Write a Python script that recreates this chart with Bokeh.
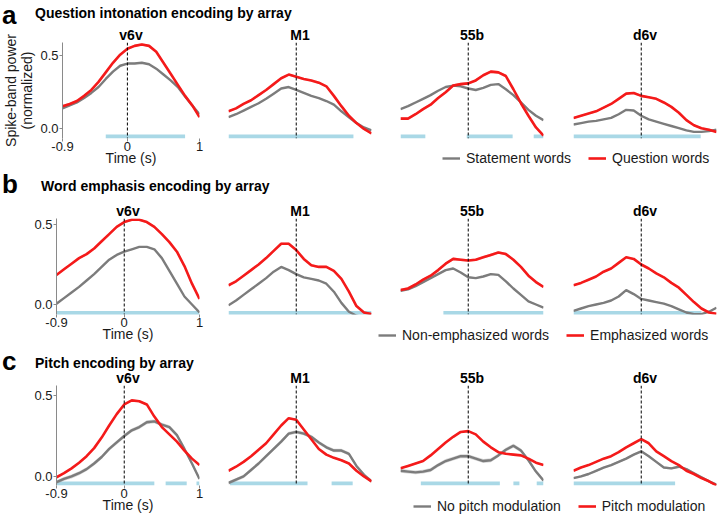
from bokeh.plotting import figure
from bokeh.models import Range1d, Span, FixedTicker, Legend, LegendItem, Div
from bokeh.layouts import row, column
from bokeh.embed import file_html
from bokeh.resources import INLINE

# ---------------- data ----------------
TIME = [-0.9, -0.8, -0.7, -0.6, -0.5, -0.4, -0.3, -0.2, -0.1, 0.0,
        0.1, 0.2, 0.3, 0.4, 0.5, 0.6, 0.7, 0.8, 0.9, 1.0]
ARRAYS = ["v6v", "M1", "55b", "d6v"]
LETTERS = ["a", "b", "c"]
ROW_TITLES = ["Question intonation encoding by array",
              "Word emphasis encoding by array",
              "Pitch encoding by array"]
LEGEND_GREY = ["Statement words", "Non-emphasized words", "No pitch modulation"]
LEGEND_RED = ["Question words", "Emphasized words", "Pitch modulation"]
X_TICKS = [-0.9, 0, 1]
X_TICK_LABELS = ["-0.9", "0", "1"]
Y_TICKS = [0, 0.5]
Y_TICK_LABELS = ["0.0", "0.5"]
Y_LABEL = "Spike-band power\n(normalized)"
X_LABEL = "Time (s)"

# row a: question intonation
A_V6V_GREY = [0.14, 0.16, 0.18, 0.21, 0.245, 0.285, 0.34, 0.39, 0.43, 0.445, 0.445, 0.45, 0.44, 0.41, 0.37, 0.33, 0.285, 0.22, 0.16, 0.10]
A_V6V_RED = [0.155, 0.17, 0.19, 0.225, 0.265, 0.32, 0.385, 0.45, 0.505, 0.545, 0.565, 0.575, 0.565, 0.525, 0.45, 0.375, 0.30, 0.225, 0.16, 0.08]
A_M1_GREY = [0.08, 0.10, 0.125, 0.15, 0.175, 0.205, 0.24, 0.275, 0.285, 0.265, 0.245, 0.225, 0.21, 0.19, 0.165, 0.12, 0.08, 0.04, 0.01, -0.01]
A_M1_RED = [0.12, 0.14, 0.17, 0.195, 0.23, 0.265, 0.305, 0.345, 0.37, 0.355, 0.34, 0.33, 0.315, 0.29, 0.225, 0.155, 0.09, 0.04, 0.0, -0.03]
A_55B_GREY = [0.135, 0.155, 0.18, 0.205, 0.23, 0.26, 0.285, 0.295, 0.29, 0.275, 0.265, 0.28, 0.30, 0.305, 0.27, 0.23, 0.18, 0.13, 0.09, 0.06]
A_55B_RED = [0.07, 0.07, 0.10, 0.135, 0.165, 0.21, 0.25, 0.295, 0.305, 0.31, 0.33, 0.365, 0.39, 0.385, 0.36, 0.27, 0.175, 0.09, 0.01, -0.045]
A_D6V_GREY = [0.03, 0.04, 0.05, 0.055, 0.065, 0.075, 0.10, 0.13, 0.125, 0.09, 0.065, 0.05, 0.035, 0.02, 0.005, -0.01, -0.02, -0.02, -0.015, -0.005]
A_D6V_RED = [0.075, 0.09, 0.105, 0.12, 0.145, 0.17, 0.205, 0.24, 0.245, 0.225, 0.215, 0.205, 0.18, 0.15, 0.11, 0.06, 0.025, 0.005, -0.005, -0.02]

# row b: word emphasis
B_V6V_GREY = [0.005, 0.04, 0.075, 0.11, 0.15, 0.19, 0.235, 0.28, 0.31, 0.33, 0.345, 0.36, 0.36, 0.345, 0.29, 0.21, 0.13, 0.05, 0.0, -0.05]
B_V6V_RED = [0.185, 0.22, 0.255, 0.29, 0.315, 0.35, 0.395, 0.44, 0.485, 0.515, 0.53, 0.53, 0.515, 0.485, 0.44, 0.39, 0.33, 0.24, 0.13, 0.035]
B_M1_GREY = [-0.005, 0.025, 0.06, 0.095, 0.13, 0.165, 0.205, 0.235, 0.215, 0.19, 0.17, 0.16, 0.15, 0.13, 0.08, 0.01, -0.045, -0.07, -0.08, -0.08]
B_M1_RED = [0.12, 0.145, 0.18, 0.215, 0.25, 0.29, 0.335, 0.38, 0.38, 0.34, 0.285, 0.245, 0.235, 0.235, 0.21, 0.16, 0.08, -0.01, -0.05, -0.06]
B_55B_GREY = [0.085, 0.095, 0.115, 0.14, 0.165, 0.19, 0.215, 0.225, 0.20, 0.17, 0.165, 0.175, 0.19, 0.185, 0.145, 0.10, 0.06, 0.02, 0.0, -0.02]
B_55B_RED = [0.09, 0.10, 0.125, 0.155, 0.18, 0.215, 0.255, 0.285, 0.28, 0.275, 0.28, 0.295, 0.31, 0.325, 0.315, 0.28, 0.235, 0.18, 0.14, 0.11]
B_D6V_GREY = [-0.04, -0.025, -0.01, 0.0, 0.01, 0.025, 0.05, 0.09, 0.065, 0.035, 0.025, 0.015, 0.005, -0.01, -0.03, -0.05, -0.06, -0.06, -0.045, -0.02]
B_D6V_RED = [0.12, 0.135, 0.155, 0.175, 0.205, 0.225, 0.26, 0.295, 0.285, 0.25, 0.225, 0.195, 0.17, 0.135, 0.105, 0.06, 0.015, -0.025, -0.05, -0.058]

# row c: pitch
C_V6V_GREY = [-0.035, -0.015, 0.0, 0.02, 0.045, 0.08, 0.12, 0.17, 0.21, 0.25, 0.285, 0.305, 0.335, 0.34, 0.32, 0.305, 0.255, 0.17, 0.08, -0.015]
C_V6V_RED = [-0.005, 0.02, 0.05, 0.085, 0.125, 0.175, 0.24, 0.315, 0.385, 0.445, 0.47, 0.465, 0.445, 0.37, 0.305, 0.26, 0.215, 0.16, 0.11, 0.07]
C_M1_GREY = [-0.04, -0.02, 0.0, 0.04, 0.08, 0.125, 0.17, 0.215, 0.265, 0.275, 0.265, 0.245, 0.21, 0.18, 0.16, 0.16, 0.14, 0.065, 0.01, -0.03]
C_M1_RED = [0.035, 0.06, 0.09, 0.125, 0.165, 0.205, 0.26, 0.315, 0.36, 0.35, 0.29, 0.23, 0.17, 0.135, 0.115, 0.10, 0.08, 0.035, 0.0, -0.03]
C_55B_GREY = [0.035, 0.03, 0.025, 0.03, 0.04, 0.07, 0.095, 0.11, 0.125, 0.125, 0.11, 0.095, 0.10, 0.13, 0.165, 0.19, 0.16, 0.10, 0.03, -0.025]
C_55B_RED = [0.05, 0.065, 0.08, 0.095, 0.13, 0.17, 0.21, 0.245, 0.275, 0.28, 0.26, 0.215, 0.18, 0.15, 0.14, 0.135, 0.13, 0.11, 0.085, 0.07]
C_D6V_GREY = [-0.01, 0.0, 0.015, 0.035, 0.055, 0.07, 0.09, 0.11, 0.135, 0.155, 0.125, 0.09, 0.055, 0.05, 0.06, 0.045, 0.02, -0.005, -0.03, -0.05]
C_D6V_RED = [0.035, 0.055, 0.07, 0.09, 0.11, 0.125, 0.15, 0.18, 0.205, 0.23, 0.205, 0.155, 0.125, 0.095, 0.07, 0.035, 0.015, -0.01, -0.03, -0.055]

# error-band half widths (per array)
SEM_GREY_A = [0.005, 0.004, 0.004, 0.004]
SEM_RED_A = [0.008, 0.007, 0.009, 0.007]
SEM_GREY_B = [0.004, 0.004, 0.005, 0.004]
SEM_RED_B = [0.007, 0.007, 0.008, 0.006]
SEM_GREY_C = [0.012, 0.011, 0.012, 0.007]
SEM_RED_C = [0.006, 0.006, 0.006, 0.005]

# significant time windows (start, end) per array
SIG_A = [[(-0.3, 0.8)], [(-0.9, 0.76)], [(-0.9, -0.57), (-0.02, 0.59), (0.87, 1.0)], [(-0.9, 0.79)]]
SIG_B = [[(-0.9, 1.0)], [(-0.9, 1.0)], [(-0.33, 1.0)], [(-0.9, 0.8)]]
SIG_C = [[(-0.9, 0.4), (0.55, 0.83), (0.96, 1.0)], [(-0.88, 0.15), (0.47, 0.75)],
         [(-0.63, 0.42), (0.6, 0.68), (0.91, 1.0)], [(-0.9, 0.45)]]

GREYS = [[A_V6V_GREY, A_M1_GREY, A_55B_GREY, A_D6V_GREY],
         [B_V6V_GREY, B_M1_GREY, B_55B_GREY, B_D6V_GREY],
         [C_V6V_GREY, C_M1_GREY, C_55B_GREY, C_D6V_GREY]]
REDS = [[A_V6V_RED, A_M1_RED, A_55B_RED, A_D6V_RED],
        [B_V6V_RED, B_M1_RED, B_55B_RED, B_D6V_RED],
        [C_V6V_RED, C_M1_RED, C_55B_RED, C_D6V_RED]]
SEM_G = [SEM_GREY_A, SEM_GREY_B, SEM_GREY_C]
SEM_R = [SEM_RED_A, SEM_RED_B, SEM_RED_C]
SIGS = [SIG_A, SIG_B, SIG_C]

# ---------------- style / layout ----------------
FONT = "Liberation Sans"
GREY = "#7c7c7c"
RED = "#f41a1a"
BLUE = "#a9d8e6"
AXIS_COL = "#8a8a8a"
TXT = "#1a1a1a"

Y_RANGES = [(-0.065, 0.588), (-0.0625, 0.5375), (-0.056, 0.562)]
SIG_Y = [-0.051, -0.053, -0.043]
FRAME_H = [96, 96, 100]
FW = 143
LEFT_B = [56, 15, 15, 15]
RIGHT_B = [14, 14, 15, 4]
TOPB = 18
BOT = 31
BOT_R = 8
DIV_H = [24, 31, 22]
LETTER_BASE = [23.6, 24, 25]
TITLE_BASE = [18, 22, 23]
TITLE_X = [35, 41, 35]
LEG_X = [229, 165, 200]
LEG_Y = [3, 2, 2]


def txt(text, x, baseline, fs, weight="bold"):
    top = baseline - 0.8465 * fs
    return (f'<span style="position:absolute;left:{x}px;top:{top:.1f}px;font-size:{fs}px;'
            f'line-height:{fs}px;font-weight:{weight};white-space:nowrap;">{text}</span>')


def header(ri):
    parts = [txt(LETTERS[ri], 2, LETTER_BASE[ri], 26),
             txt(ROW_TITLES[ri], TITLE_X[ri], TITLE_BASE[ri], 14)]
    html = (f'<div style="position:relative;width:720px;height:{DIV_H[ri]}px;'
            f'font-family:\'{FONT}\',Arial,sans-serif;color:#000;">' + "".join(parts) + "</div>")
    return Div(text=html, width=720, height=DIV_H[ri], margin=0)


def panel(ri, ci):
    axes = ci == 0
    bot = BOT if axes else BOT_R
    p = figure(width=LEFT_B[ci] + FW + RIGHT_B[ci], height=TOPB + FRAME_H[ri] + bot,
               x_range=Range1d(-0.9, 1.0), y_range=Range1d(*Y_RANGES[ri]),
               output_backend="svg", toolbar_location=None, title=ARRAYS[ci],
               x_axis_location="below" if axes else None,
               y_axis_location="left" if axes else None,
               min_border_left=LEFT_B[ci], min_border_right=RIGHT_B[ci],
               min_border_top=TOPB, min_border_bottom=bot,
               outline_line_color=None, border_fill_color=None,
               background_fill_color=None)
    p.title.align = "center"
    p.title.text_font = FONT
    p.title.text_font_size = "14px"
    p.title.text_font_style = "bold"
    p.title.text_color = "#000000"
    p.title.standoff = 0
    p.grid.visible = False
    for (s, e) in SIGS[ri][ci]:
        p.segment(x0=[s], y0=[SIG_Y[ri]], x1=[e], y1=[SIG_Y[ri]],
                  line_color=BLUE, line_width=4, line_cap="butt")
    for vals, sem, col, lw in ((GREYS[ri][ci], SEM_G[ri][ci], GREY, 2.4),
                               (REDS[ri][ci], SEM_R[ri][ci], RED, 2.6)):
        p.varea(x=TIME, y1=[v - sem for v in vals], y2=[v + sem for v in vals],
                fill_color=col, fill_alpha=0.3)
        p.line(x=TIME, y=vals, line_color=col, line_width=lw)
    p.add_layout(Span(location=0, dimension="height", line_color="black",
                      line_dash="3 2", line_width=1))
    if axes:
        for ax in (p.xaxis[0], p.yaxis[0]):
            ax.minor_tick_line_color = None
            ax.major_tick_in = 0
            ax.major_tick_out = 3
            ax.major_tick_line_color = AXIS_COL
            ax.major_label_text_font = FONT
            ax.major_label_text_font_size = "13px"
            ax.major_label_text_color = TXT
            ax.axis_label_text_font = FONT
            ax.axis_label_text_font_size = "14px"
            ax.axis_label_text_font_style = "normal"
            ax.axis_label_text_color = TXT
        p.yaxis.ticker = FixedTicker(ticks=Y_TICKS)
        p.yaxis.major_label_overrides = dict(zip(Y_TICKS, Y_TICK_LABELS))
        p.yaxis.axis_line_color = AXIS_COL
        p.yaxis.major_label_standoff = 1
        if ri == 0:
            p.yaxis.axis_label = Y_LABEL
            p.yaxis.axis_label_standoff = 2
            p.yaxis.axis_label_text_line_height = 1.0
        p.xaxis.ticker = FixedTicker(ticks=X_TICKS)
        p.xaxis.major_label_overrides = dict(zip(X_TICKS, X_TICK_LABELS))
        p.xaxis.axis_line_color = None
        p.xaxis.major_label_standoff = 0
        p.xaxis.axis_label = X_LABEL
        p.xaxis.axis_label_standoff = -4
    return p


def legend_fig(ri):
    lw = 720 - (LEFT_B[0] + FW + RIGHT_B[0])
    lf = figure(width=lw, height=BOT - BOT_R, x_range=Range1d(0, 1), y_range=Range1d(0, 1),
                output_backend="svg", toolbar_location=None,
                x_axis_location=None, y_axis_location=None, min_border=0,
                outline_line_color=None, border_fill_color=None, background_fill_color=None)
    lf.grid.visible = False
    # one-point lines: nothing drawn in the (out-of-range) frame, but they carry the legend styling
    rg = lf.line(x=TIME[:1], y=GREYS[ri][0][:1], line_color=GREY, line_width=2.4)
    rr = lf.line(x=TIME[:1], y=REDS[ri][0][:1], line_color=RED, line_width=2.6)
    leg = Legend(items=[LegendItem(label=LEGEND_GREY[ri], renderers=[rg]),
                        LegendItem(label=LEGEND_RED[ri], renderers=[rr])],
                 orientation="horizontal", location=(LEG_X[ri], LEG_Y[ri]),
                 glyph_width=18, glyph_height=16, label_height=16, label_standoff=6,
                 spacing=17, padding=0, margin=0, border_line_color=None,
                 background_fill_color=None, background_fill_alpha=0,
                 label_text_font=FONT, label_text_font_size="14px", label_text_color=TXT)
    lf.add_layout(leg, "center")
    return lf


blocks = []
for ri in range(3):
    blocks.append(header(ri))
    figs = [panel(ri, ci) for ci in range(4)]
    blocks.append(row(figs[0], column(row(figs[1], figs[2], figs[3]), legend_fig(ri))))

layout = column(*blocks)
open("out.html", "w").write(file_html(layout, INLINE))
